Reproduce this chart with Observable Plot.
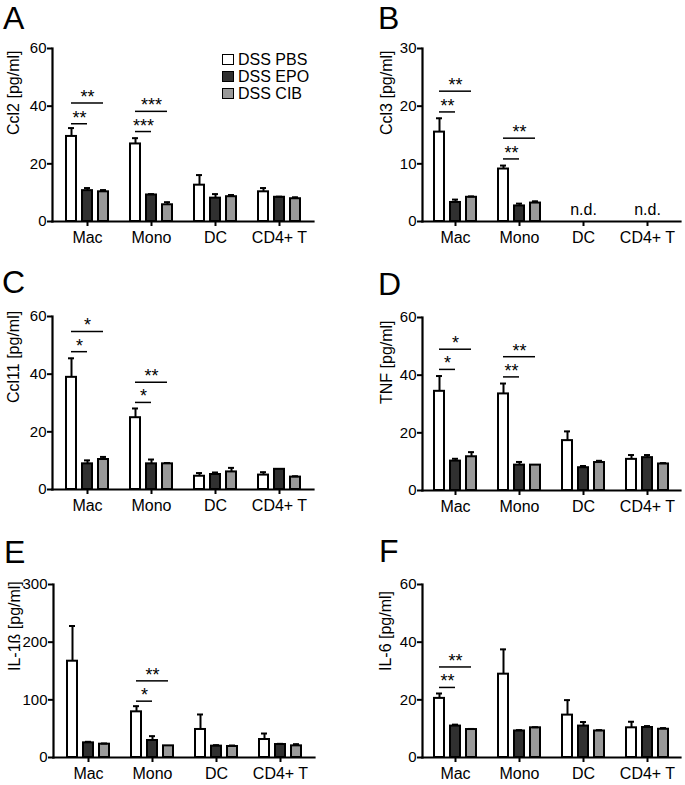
<!DOCTYPE html>
<html><head><meta charset="utf-8">
<script src="https://cdn.jsdelivr.net/npm/d3@7"></script>
<script src="https://cdn.jsdelivr.net/npm/@observablehq/plot@0.6"></script>
<style>
body{margin:0;background:#fff;font-family:Arial,"Liberation Sans",sans-serif;color:#000;}
#root{position:relative;width:685px;height:785px;overflow:hidden;}
.panel{position:absolute;}
.letter{position:absolute;font-size:32px;line-height:1;}
.legend{position:absolute;left:222px;top:51px;z-index:2;font-size:16px;}
.legend .row{display:flex;align-items:center;height:17px;line-height:17px;}
.legend .sw{width:10px;height:9px;border:1.3px solid #000;margin-right:4px;}
</style></head><body><div id="root"></div>
<script>
// ---- shared categories / series ----
const categories = ["Mac", "Mono", "DC", "CD4+ T"];
const series = ["DSS PBS", "DSS EPO", "DSS CIB"];
const seriesFill = ["#ffffff", "#303030", "#999999"];

// ---- A: Ccl2 ---- rows = categories, columns = series
const ccl2Label = "Ccl2 [pg/ml]";
const ccl2Ticks = [0, 20, 40, 60];
const ccl2Mean   = [[29.5, 10.7, 10.3], [26.9, 9.2, 5.8], [12.6, 8.1, 8.6], [10.3, 8.4, 7.9]];
const ccl2ErrTop = [[32.4, 11.6, 10.9], [28.9, 9.5, 6.7], [16.1, 9.5, 9.2], [11.6, 8.6, 8.4]];
const ccl2Sig = [["Mac", "DSS EPO", 33.9, "**"], ["Mac", "DSS CIB", 41.1, "**"],
                 ["Mono", "DSS EPO", 31.2, "***"], ["Mono", "DSS CIB", 38.2, "***"]];
const ccl2NotDetected = [];

// ---- B: Ccl3 ----
const ccl3Label = "Ccl3 [pg/ml]";
const ccl3Ticks = [0, 10, 20, 30];
const ccl3Mean   = [[15.5, 3.3, 4.2], [9.1, 2.7, 3.2], [null, null, null], [null, null, null]];
const ccl3ErrTop = [[17.9, 3.8, 4.35], [9.7, 3.1, 3.5], [null, null, null], [null, null, null]];
const ccl3Sig = [["Mac", "DSS EPO", 19.0, "**"], ["Mac", "DSS CIB", 22.6, "**"],
                 ["Mono", "DSS EPO", 10.85, "**"], ["Mono", "DSS CIB", 14.45, "**"]];
const ccl3NotDetected = ["DC", "CD4+ T"];

// ---- C: Ccl11 ----
const ccl11Label = "Ccl11 [pg/ml]";
const ccl11Ticks = [0, 20, 40, 60];
const ccl11Mean   = [[38.9, 8.9, 10.4], [24.9, 8.9, 8.9], [4.6, 5.2, 6.1], [5.0, 7.0, 4.3]];
const ccl11ErrTop = [[45.5, 10.1, 11.3], [28.1, 10.4, 9.2], [5.7, 5.9, 7.5], [6.0, 7.0, 4.6]];
const ccl11Sig = [["Mac", "DSS EPO", 47.8, "*"], ["Mac", "DSS CIB", 54.8, "*"],
                  ["Mono", "DSS EPO", 30.2, "*"], ["Mono", "DSS CIB", 37.2, "**"]];
const ccl11NotDetected = [];

// ---- D: TNF ----
const tnfLabel = "TNF [pg/ml]";
const tnfTicks = [0, 20, 40, 60];
const tnfMean   = [[34.4, 10.2, 11.7], [33.5, 8.8, 8.8], [17.3, 7.9, 9.7], [10.8, 11.4, 9.2]];
const tnfErrTop = [[39.7, 11.0, 13.3], [37.1, 9.9, 8.8], [20.5, 8.5, 10.3], [12.3, 12.3, 9.5]];
const tnfSig = [["Mac", "DSS EPO", 42.0, "*"], ["Mac", "DSS CIB", 49.0, "*"],
                ["Mono", "DSS EPO", 39.4, "**"], ["Mono", "DSS CIB", 46.4, "**"]];
const tnfNotDetected = [];

// ---- E: IL-1ß ----
const il1bLabel = "IL-1ß [pg/ml]";
const il1bTicks = [0, 100, 200, 300];
const il1bMean   = [[167, 25.4, 23.1], [79.2, 29.5, 20.2], [48.6, 19.7, 19.1], [31.2, 22.5, 20.2]];
const il1bErrTop = [[228, 27.2, 24.3], [89, 37, 20.2], [74.6, 21.4, 20.8], [41.6, 23.7, 23.1]];
const il1bSig = [["Mono", "DSS EPO", 97.7, "*"], ["Mono", "DSS CIB", 132.9, "**"]];
const il1bNotDetected = [];

// ---- F: IL-6 ----
const il6Label = "IL-6 [pg/ml]";
const il6Ticks = [0, 20, 40, 60];
const il6Mean   = [[20.5, 10.9, 9.7], [28.9, 9.2, 10.3], [14.7, 10.9, 9.2], [10.3, 10.4, 9.8]];
const il6ErrTop = [[22.2, 11.4, 9.9], [37.5, 9.5, 10.5], [19.9, 12.3, 9.5], [12.4, 10.9, 10.2]];
const il6Sig = [["Mac", "DSS EPO", 24.3, "**"], ["Mac", "DSS CIB", 31.4, "**"]];
const il6NotDetected = [];

// ---- build ----
const keyOf = (c, s) => c + "|" + s;
const xDomain = [];
categories.forEach((c, i) => {
  if (i > 0) xDomain.push("gap" + i);
  series.forEach(s => xDomain.push(keyOf(c, s)));
});
const tickKeys = categories.map(c => keyOf(c, series[1]));

function table(mean, err) {
  const out = [];
  categories.forEach((c, i) => series.forEach((s, j) => {
    if (mean[i][j] == null) return;
    out.push({key: keyOf(c, s), category: c, series: s, value: mean[i][j], errTop: err[i][j]});
  }));
  return out;
}

function makePanel(p) {
  const data = table(p.mean, p.err);
  const withErr = data.filter(d => d.errTop != null && d.errTop > d.value + 0.05);
  const sig = p.sig.map(([c, vs, y, stars]) => ({
    from: keyOf(c, series[0]), to: keyOf(c, vs), mid: keyOf(c, series[1]),
    y, stars, short: vs === series[1]
  }));
  return Plot.plot({
    width: p.width, height: 251,
    marginLeft: 52, marginRight: p.width - 52 - p.frameW, marginTop: 48, marginBottom: 30,
    style: {background: "transparent", color: "black", fontFamily: "Arial, 'Liberation Sans', sans-serif", overflow: "visible"},
    x: {domain: xDomain, type: "band", paddingInner: 0.25, paddingOuter: 0.655},
    y: {domain: [0, p.ticks[p.ticks.length - 1]]},
    color: {domain: series, range: seriesFill},
    marks: [
      Plot.barY(data, {x: "key", y: "value", fill: "series", stroke: "black", strokeWidth: 2, insetLeft: 1, insetRight: 1}),
      Plot.ruleX(withErr, {x: "key", y1: "value", y2: "errTop", stroke: "black", strokeWidth: 2}),
      Plot.tickY(withErr, {x: "key", y: "errTop", stroke: "black", strokeWidth: 2, insetLeft: 3, insetRight: 3}),
      Plot.ruleY(sig, {x1: "from", x2: "to", y: "y", stroke: "black", strokeWidth: 1.5, insetLeft: 6, insetRight: 6}),
      Plot.text(sig.filter(d => d.short), {x: "from", y: "y", text: "stars", dx: 8, lineAnchor: "bottom", fontSize: 18, fill: "black"}),
      Plot.text(sig.filter(d => !d.short), {x: "mid", y: "y", text: "stars", lineAnchor: "bottom", fontSize: 18, fill: "black"}),
      Plot.text(p.nd, {x: c => keyOf(c, series[1]), y: () => 0, text: () => "n.d.", lineAnchor: "bottom", dy: -7, fontSize: 16, fill: "black"}),
      Plot.axisY({ticks: p.ticks, tickSize: 5, tickPadding: 1, fontSize: 15, strokeWidth: 2, color: "black", label: null}),
      Plot.axisX({ticks: tickKeys, tickFormat: k => k.split("|")[0], tickSize: 5, tickPadding: 5, fontSize: 16, strokeWidth: 2, color: "black", label: null}),
      Plot.frame({anchor: "left", stroke: "black", strokeWidth: 2.2}),
      Plot.frame({anchor: "bottom", stroke: "black", strokeWidth: 2.2}),
      Plot.text([p.label], {frameAnchor: "left", rotate: -90, dx: p.labelDx, fontSize: 16, fill: "black"})
    ]
  });
}

const panels = [
  {letter: "A", lx: 3, ly: 2, left: 0, top: 0, width: 330, frameW: 261, labelDx: -39, label: ccl2Label, ticks: ccl2Ticks, mean: ccl2Mean, err: ccl2ErrTop, sig: ccl2Sig, nd: ccl2NotDetected},
  {letter: "B", lx: 378, ly: 2, left: 370, top: 0, width: 315, frameW: 258, labelDx: -36, label: ccl3Label, ticks: ccl3Ticks, mean: ccl3Mean, err: ccl3ErrTop, sig: ccl3Sig, nd: ccl3NotDetected},
  {letter: "C", lx: 2, ly: 266, left: 0, top: 268, width: 330, frameW: 261, labelDx: -39, label: ccl11Label, ticks: ccl11Ticks, mean: ccl11Mean, err: ccl11ErrTop, sig: ccl11Sig, nd: ccl11NotDetected},
  {letter: "D", lx: 378, ly: 268, left: 370, top: 269, width: 315, frameW: 258, labelDx: -36, label: tnfLabel, ticks: tnfTicks, mean: tnfMean, err: tnfErrTop, sig: tnfSig, nd: tnfNotDetected},
  {letter: "E", lx: 4, ly: 536, left: 1, top: 536, width: 330, frameW: 261, labelDx: -39, label: il1bLabel, ticks: il1bTicks, mean: il1bMean, err: il1bErrTop, sig: il1bSig, nd: il1bNotDetected},
  {letter: "F", lx: 379, ly: 535, left: 370, top: 536, width: 315, frameW: 258, labelDx: -37, label: il6Label, ticks: il6Ticks, mean: il6Mean, err: il6ErrTop, sig: il6Sig, nd: il6NotDetected}
];

const root = document.getElementById("root");
for (const p of panels) {
  const svg = makePanel(p);
  const wrap = document.createElement("div");
  wrap.className = "panel";
  wrap.style.left = p.left + "px";
  wrap.style.top = p.top + "px";
  wrap.appendChild(svg);
  root.appendChild(wrap);
  const L = document.createElement("div");
  L.className = "letter";
  L.style.left = p.lx + "px";
  L.style.top = p.ly + "px";
  L.textContent = p.letter;
  root.appendChild(L);
}

// legend (panel A)
const legend = document.createElement("div");
legend.className = "legend";
series.forEach((s, i) => {
  const row = document.createElement("div");
  row.className = "row";
  const sw = document.createElement("div");
  sw.className = "sw";
  sw.style.background = seriesFill[i];
  const t = document.createElement("span");
  t.textContent = s;
  row.appendChild(sw);
  row.appendChild(t);
  legend.appendChild(row);
});
root.appendChild(legend);
</script>
</body></html>
